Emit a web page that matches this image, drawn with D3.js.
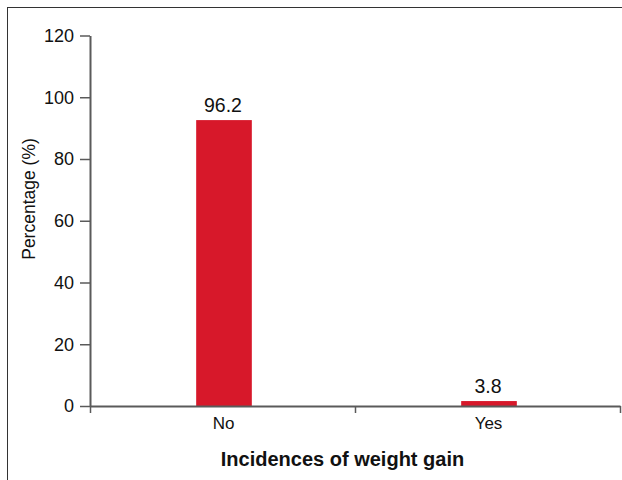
<!DOCTYPE html>
<html>
<head>
<meta charset="utf-8">
<script src="https://cdn.jsdelivr.net/npm/d3@7"></script>
<style>
  html, body { margin: 0; padding: 0; background: #fff; }
  svg { display: block; }
  text { font-family: "Liberation Sans", Arial, sans-serif; fill: #111; }
</style>
</head>
<body>
<svg id="chart" width="622" height="480"></svg>
<script>
// Data
const categories = ["No", "Yes"];
const barValues = [92.6, 1.6];          // bar heights as drawn in the picture
const valueLabels = ["96.2", "3.8"];    // labels printed above the bars
const yTicks = [0, 20, 40, 60, 80, 100, 120];
const yLabel = "Percentage (%)";
const xLabel = "Incidences of weight gain";

const svg = d3.select("#chart");

// frame (only top and left edges visible in the picture)
svg.append("rect")
  .attr("x", 7.5).attr("y", 7.5)
  .attr("width", 640).attr("height", 500)
  .attr("fill", "none").attr("stroke", "#333").attr("stroke-width", 1);

const x0 = 90, x1 = 620, yBase = 406, yTop = 35.5;

const y = d3.scaleLinear().domain([0, 120]).range([yBase, yTop]);
const xBand = d3.scaleBand().domain(categories).range([x0, x1]).paddingInner(0).paddingOuter(0);
const xEdge = d3.scaleLinear().domain([0, categories.length]).range([x0, x1]);

const axisColor = "#5a5a5a";

// bars
const barW = xBand.bandwidth() * 0.21;
svg.append("g").selectAll("rect")
  .data(categories)
  .join("rect")
  .attr("x", (d) => xBand(d) + xBand.bandwidth() / 2 - barW / 2 + 1.5)
  .attr("y", (d, i) => y(barValues[i]))
  .attr("width", barW)
  .attr("height", (d, i) => y(0) - y(barValues[i]))
  .attr("fill", "#d7182a");

// value labels
svg.append("g").selectAll("text")
  .data(categories)
  .join("text")
  .attr("x", (d) => xBand(d) + xBand.bandwidth() / 2 + 0.5)
  .attr("y", (d, i) => y(barValues[i]) - 8.5)
  .attr("text-anchor", "middle")
  .style("font-size", "19.5px")
  .text((d, i) => valueLabels[i]);

// y axis
const yAxis = svg.append("g")
  .attr("transform", `translate(${x0},0)`)
  .call(d3.axisLeft(y).tickValues(yTicks).tickSize(10).tickPadding(6).tickSizeOuter(0));
yAxis.select(".domain").attr("stroke", axisColor).attr("stroke-width", 2);
yAxis.selectAll(".tick line").attr("stroke", axisColor).attr("stroke-width", 1.5);
yAxis.selectAll(".tick text").style("font-size", "18px").attr("fill", "#111")
  .style("font-family", "'Liberation Sans', Arial, sans-serif");

// x axis (ticks at band edges)
const xAxis = svg.append("g")
  .attr("transform", `translate(0,${yBase})`)
  .call(d3.axisBottom(xEdge).tickValues(d3.range(categories.length + 1)).tickFormat("").tickSize(7).tickSizeOuter(0));
xAxis.select(".domain").attr("stroke", axisColor).attr("stroke-width", 2);
xAxis.selectAll(".tick line").attr("stroke", axisColor).attr("stroke-width", 1.5);

// category labels
svg.append("g").selectAll("text")
  .data(categories)
  .join("text")
  .attr("x", (d) => xBand(d) + xBand.bandwidth() / 2 + 1)
  .attr("y", 429)
  .attr("text-anchor", "middle")
  .style("font-size", "17px")
  .text((d) => d);

// axis titles
svg.append("text")
  .attr("transform", "translate(35,199) rotate(-90)")
  .attr("text-anchor", "middle")
  .style("font-size", "17.5px")
  .text(yLabel);

svg.append("text")
  .attr("x", 342.5)
  .attr("y", 466)
  .attr("text-anchor", "middle")
  .style("font-size", "20px")
  .style("font-weight", "bold")
  .text(xLabel);
</script>
</body>
</html>
